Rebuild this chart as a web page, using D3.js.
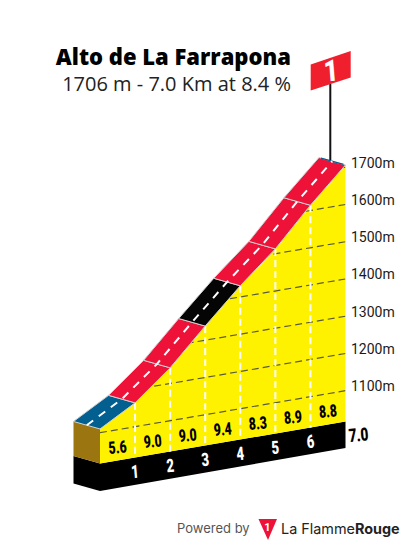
<!DOCTYPE html>
<html><head><meta charset="utf-8">
<script src="https://cdn.jsdelivr.net/npm/d3@7/dist/d3.min.js"></script>
<style>html,body{margin:0;padding:0;background:#fff}svg{display:block}</style>
</head><body><svg id="c" width="405" height="545"></svg>
<script>
const kms=[0,1,2,3,4,5,6,7];
const elevations=[1110,1164,1242,1338,1430,1513,1614,1706];
const gradients=[5.6,9.0,9.0,9.4,8.3,8.9,8.8];
const segmentColors=["#035f8f","#ee1238","#ee1238","#050505","#ee1238","#ee1238","#ee1238"];
const altitudeTicks=[1100,1200,1300,1400,1500,1600,1700];
const kmLabels=[1,2,3,4,5,6];
const title="Alto de La Farrapona";
const subtitle="1706 m - 7.0 Km at 8.4 %";
const lengthLabel="7.0";

const svg=d3.select("#c");
const narrow="Roboto,sans-serif";
const x=d3.scaleLinear().domain([0,7]).range([100,345.5]);
const base=d3.scaleLinear().domain([0,7]).range([463.5,421.5]);
const h=d3.scaleLinear().domain([1100,1706]).range([0,225.7]);
const gridY=d3.scaleLinear().domain([0,7]).range([432.7,390.7]);
const Y=(km,e)=>gridY(km)-h(e);
const back=[-26.5,-7.5], band=27.5;
const pt=(k,i)=>[x(k),Y(k,elevations[i])];

const line=d3.line();
svg.append("path").attr("d",line([[x(0),base(0)],[x(7),base(7)],[x(7),base(7)+band-1],[x(0),base(0)+band]])+"Z").attr("fill","#000");
svg.append("path").attr("d",line([[x(0),base(0)],[x(0),base(0)+band],[x(0)+back[0],base(0)+band+back[1]],[x(0)+back[0],base(0)+back[1]]])+"Z").attr("fill","#000");
const top0=pt(0,0);
svg.append("path").attr("d",line([top0,[x(0),base(0)],[x(0)+back[0],base(0)+back[1]],[top0[0]+back[0],top0[1]+back[1]]])+"Z").attr("fill","#9b7510");

const profile=kms.map((k,i)=>pt(k,i));
const profPath=line([...profile,[x(7),base(7)],[x(0),base(0)]])+"Z";
svg.append("path").attr("d",profPath).attr("fill","#fff200");
svg.append("clipPath").attr("id","pc").append("path").attr("d",profPath);

svg.append("g").attr("clip-path","url(#pc)").selectAll("line").data(altitudeTicks).join("line")
 .attr("x1",x(0)).attr("x2",x(7)).attr("y1",d=>Y(0,d)).attr("y2",d=>Y(7,d))
 .attr("stroke","#5a5a3c").attr("stroke-width",1.2).attr("stroke-dasharray","7 4");

svg.append("g").selectAll("line").data(kmLabels).join("line")
 .attr("x1",d=>x(d)).attr("x2",d=>x(d)).attr("y1",d=>pt(d,d)[1]).attr("y2",d=>base(d))
 .attr("stroke","#fff").attr("stroke-width",2).attr("stroke-dasharray","7 4");

svg.append("g").selectAll("path").data(segmentColors).join("path")
 .attr("d",(c,i)=>{const a=pt(i,i),b=pt(i+1,i+1);
   return line([a,b,[b[0]+back[0],b[1]+back[1]],[a[0]+back[0],a[1]+back[1]]])+"Z";})
 .attr("fill",d=>d).attr("stroke","#cfcfcf").attr("stroke-width",1).attr("stroke-linejoin","round");
const e7=pt(7,7);
svg.append("line").attr("x1",e7[0]-2).attr("y1",e7[1]-.6).attr("x2",e7[0]+back[0]+2).attr("y2",e7[1]+back[1]+.6)
 .attr("stroke","#035f8f").attr("stroke-width",1.4);
svg.append("path").attr("d",line(profile.map(p=>[p[0]+back[0]/2,p[1]+back[1]/2])))
 .attr("fill","none").attr("stroke","#fff").attr("stroke-width",2).attr("stroke-dasharray","8 7");

const axisScale=d3.scaleLinear().domain([1100,1706]).range([390.7-4.5,390.7-4.5-225.7]);
const axis=svg.append("g").attr("transform","translate(347,0)")
 .call(d3.axisRight(axisScale).tickValues(altitudeTicks).tickSize(0).tickPadding(4).tickFormat(d=>d+"m"));
axis.select(".domain").remove();
axis.selectAll("text").attr("font-family","Roboto,sans-serif").attr("font-size",14).attr("fill","#1a1a1a");

const slope=-Math.atan2(42,245.5)*180/Math.PI;
const condensed=(sel,fx,fy,size,sx,sy)=>sel.attr("text-anchor","middle").attr("dominant-baseline","central")
 .attr("font-family",narrow).attr("font-weight",900).attr("font-size",size)
 .attr("transform",(d,i)=>`translate(${fx(d,i)},${fy(d,i)}) rotate(${slope*0.5}) scale(${sx},${sy})`);
svg.append("g").selectAll("text").data(gradients).join("text").text(d=>d.toFixed(1))
 .call(condensed,(d,i)=>x(i+.5),(d,i)=>base(i+.5)-13,15,0.82,1.15).attr("fill","#000");
svg.append("g").selectAll("text").data(kmLabels).join("text").text(d=>d)
 .call(condensed,d=>x(d),d=>base(d)+14,16,0.82,1.15).attr("fill","#fff");
svg.append("text").datum(lengthLabel).text(lengthLabel)
 .call(condensed,()=>358.5,()=>435,16,0.85,1.15).attr("fill","#000");

svg.append("text").text(title).attr("x",291).attr("y",65).attr("text-anchor","end")
 .attr("font-family","'Open Sans',sans-serif").attr("font-weight",800).attr("font-size",22).attr("fill","#000");
svg.append("text").text(subtitle).attr("x",291).attr("y",91).attr("text-anchor","end")
 .attr("font-family","'Open Sans',sans-serif").attr("font-size",20).attr("fill","#222");

svg.append("line").attr("x1",330.3).attr("x2",330.3).attr("y1",84).attr("y2",e7[1]-5).attr("stroke","#111").attr("stroke-width",2);
svg.append("path").attr("d",line([[310.7,64.5],[350.7,51],[350.7,77.5],[310.7,90.5]])+"Z").attr("fill","#f01f2d");
svg.append("text").datum("1").text("1")
 .call(condensed,()=>331,()=>71,26,0.95,1.15).attr("fill","#fff");

svg.append("text").text("Powered by").attr("x",177).attr("y",533).attr("font-family","Inter,Roboto,sans-serif").attr("font-size",13).attr("fill","#555");
svg.append("path").attr("d",line([[258.5,519],[277,519],[268,540]])+"Z").attr("fill","#ee1238");
svg.append("text").text("1").attr("x",267.5).attr("y",527).attr("text-anchor","middle").attr("dominant-baseline","central")
 .attr("font-family",narrow).attr("font-weight",700).attr("font-size",11).attr("fill","#fff");
const brand=svg.append("text").attr("x",281).attr("y",534).attr("font-family","Inter,Roboto,sans-serif").attr("font-size",14.4).attr("fill","#222");
brand.append("tspan").text("La Flamme");
brand.append("tspan").text("Rouge").attr("font-weight",700);
</script></body></html>
